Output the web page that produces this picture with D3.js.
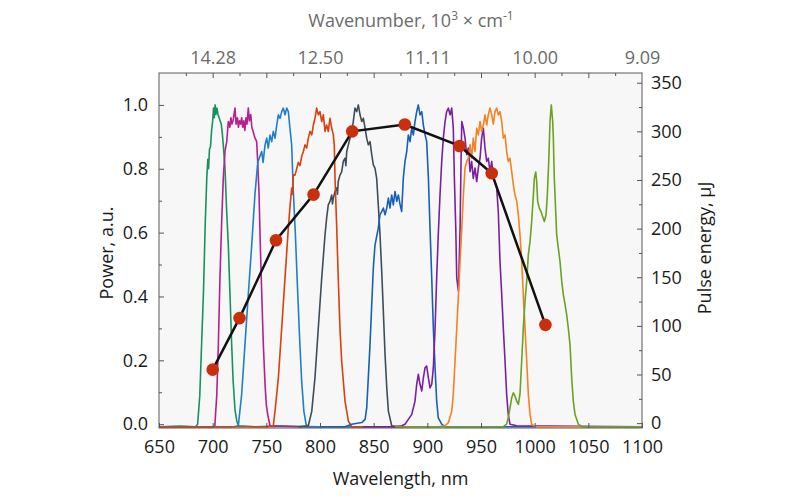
<!DOCTYPE html>
<html><head><meta charset="utf-8">
<script src="https://cdn.jsdelivr.net/npm/d3@7"></script>
<style>body{margin:0;background:#fff}svg{display:block}text{font-family:"Open Sans","Noto Sans",sans-serif}</style>
</head><body><svg id="c" width="800" height="500"></svg>
<script>
const xTicks = [650,700,750,800,850,900,950,1000,1050,1100];
const topTicks = [700,800,900,1000,1100];
const topTickLabels = ["14.28","12.50","11.11","10.00","9.09"];
const leftTicks = [0,0.2,0.4,0.6,0.8,1.0];
const rightTicks = [0,50,100,150,200,250,300,350];

const s1 = [[650,-0.008],[670,-0.006],[684,-0.008],[686,0.0],[688,0.09],[690,0.28],[691.5,0.42],[693,0.62],[694.5,0.77],[695.5,0.83],[696.2,0.8],[697,0.86],[698,0.87],[699,0.92],[700,0.95],[700.8,0.99],[701.5,0.96],[702.3,1.0],[703,0.97],[704,0.99],[705,0.97],[706,0.96],[707,0.95],[708,0.94],[709,0.91],[710,0.87],[711.5,0.8],[713,0.67],[714.6,0.56],[716,0.42],[717.7,0.25],[719,0.14],[720.8,0.045],[722.5,0.01],[724,-0.005],[740,-0.008],[760,-0.006],[800,-0.008]];
const s2 = [[650,-0.008],[700,-0.008],[702,-0.006],[703.8,0.09],[705.3,0.25],[706.8,0.46],[708.4,0.635],[709.9,0.77],[711.5,0.855],[713.1,0.885],[714.6,0.948],[716,0.93],[717,0.96],[718,0.94],[719,0.95],[720.8,0.99],[721.8,0.94],[723,0.96],[724,0.93],[725,0.95],[726,0.94],[727,0.96],[728,0.93],[729,0.95],[730,0.92],[731,0.96],[732,0.94],[733.2,0.99],[734.2,0.95],[735.5,0.97],[736.5,0.93],[737.5,0.92],[739,0.9],[741,0.885],[742,0.82],[743.2,0.72],[744.4,0.56],[745.7,0.41],[747.2,0.25],[748.8,0.125],[750,0.06],[751.3,0.03],[753.4,-0.005],[780,-0.008],[880,-0.008]];
const s3 = [[650,-0.008],[720,-0.008],[723.9,-0.005],[727,0.093],[730.1,0.25],[733.2,0.406],[736.4,0.562],[739.4,0.72],[742,0.82],[744.1,0.84],[745.7,0.854],[747,0.82],[748.8,0.875],[750.3,0.896],[751.8,0.865],[753.4,0.906],[755,0.885],[756.5,0.917],[758.1,0.896],[759.7,0.937],[761.2,0.969],[762.8,0.958],[764.3,0.979],[765.8,0.99],[767.4,0.969],[769,0.99],[770.5,0.979],[772,0.927],[773.6,0.875],[775,0.74],[777,0.6],[779,0.43],[781,0.27],[783,0.13],[785,0.04],[787,0.0],[789,-0.008],[880,-0.008]];
const s4 = [[650,-0.008],[750,-0.008],[756.5,-0.005],[758.1,0.041],[761.2,0.145],[764.3,0.3],[767.4,0.458],[770.5,0.614],[772,0.68],[773.6,0.74],[774.5,0.72],[775.1,0.78],[776.7,0.78],[778.3,0.8],[779.8,0.82],[781.4,0.81],[783,0.84],[784.5,0.854],[786,0.875],[787.6,0.865],[789.1,0.896],[790.7,0.917],[792.3,0.906],[793.8,0.937],[795.3,0.958],[796.9,0.99],[798.4,0.969],[800,0.979],[801.6,0.948],[803.1,0.969],[804.7,0.917],[806.2,0.937],[807.7,0.917],[809.3,0.958],[810.9,0.927],[812.4,0.906],[813.3,0.875],[814,0.77],[815.6,0.614],[817,0.458],[818.6,0.3],[820.2,0.197],[823.3,0.072],[826.4,0.01],[829.5,-0.008],[880,-0.008]];
const s5 = [[780,-0.008],[789.1,-0.005],[792.3,0.04],[795.3,0.145],[798.4,0.3],[801.6,0.458],[804.7,0.594],[806.2,0.646],[807.7,0.687],[809.3,0.698],[810.9,0.718],[811.6,0.69],[812.4,0.708],[814,0.729],[815.6,0.74],[816.3,0.72],[817,0.76],[818.6,0.78],[820.2,0.79],[821.7,0.823],[823.3,0.833],[824.1,0.81],[824.9,0.854],[826.4,0.875],[828,0.896],[829.5,0.917],[831,0.948],[832.6,0.99],[834.2,0.979],[835.7,1.0],[837.3,0.969],[838.9,0.948],[840.4,0.958],[842,0.927],[843.5,0.896],[845,0.875],[846.6,0.885],[848.2,0.844],[849.7,0.812],[851.2,0.802],[852.8,0.77],[854.3,0.687],[855.9,0.594],[857.5,0.479],[859,0.354],[860.6,0.218],[862.2,0.114],[863.7,0.041],[866.8,-0.005],[875,-0.008]];
const s6 = [[800,-0.008],[823.3,-0.008],[829.5,0.0],[838.9,0.005],[842,0.015],[843.5,0.05],[845,0.145],[846.6,0.25],[848.2,0.375],[849.7,0.49],[851.2,0.56],[854.3,0.614],[855.9,0.656],[857.5,0.666],[859,0.677],[860.6,0.656],[862.2,0.677],[863.7,0.708],[865.2,0.677],[866.8,0.718],[868.3,0.687],[869.9,0.729],[871.5,0.698],[873,0.718],[874.5,0.69],[876.1,0.666],[877.6,0.77],[879.2,0.823],[880.8,0.854],[882.3,0.906],[883.9,0.885],[885.4,0.927],[887,0.906],[888.5,0.948],[890.1,0.979],[891.6,1.0],[893.2,0.969],[894.8,0.979],[896.3,0.937],[897.9,0.906],[899.4,0.885],[901,0.77],[902.5,0.614],[904.1,0.458],[905.6,0.3],[907.2,0.177],[908.7,0.072],[910.2,0.02],[913.4,0.0],[916.5,-0.008],[1000,-0.008]];
const s7 = [[840,-0.008],[869.9,-0.008],[876.1,-0.005],[879.2,0.0],[882.3,0.015],[885.4,0.03],[888.5,0.072],[890.1,0.125],[891.6,0.156],[893.2,0.125],[894.8,0.104],[896.3,0.145],[897.9,0.177],[899.4,0.182],[901,0.145],[902.5,0.114],[904.1,0.125],[905.6,0.177],[907.2,0.3],[908.7,0.458],[910.2,0.594],[911.8,0.718],[913.4,0.823],[914.9,0.896],[916.5,0.948],[918,0.979],[919.6,0.99],[921.2,0.969],[922.7,0.99],[924.2,0.927],[925.2,0.77],[926.5,0.614],[927.4,0.458],[929,0.417],[930.5,0.614],[931.4,0.823],[932.1,0.948],[933.6,0.927],[935.1,0.896],[936.7,0.844],[938.2,0.865],[939.8,0.791],[941.3,0.823],[942.8,0.77],[944.4,0.802],[946,0.76],[947.5,0.802],[949.1,0.833],[950.6,0.896],[952.2,0.927],[953.7,0.865],[955.3,0.823],[956.8,0.833],[958.4,0.791],[960,0.823],[961.5,0.77],[963,0.76],[964.6,0.74],[966.1,0.666],[967.7,0.51],[969.3,0.406],[970.8,0.3],[972.4,0.197],[973.9,0.093],[975.4,0.03],[977,0.0],[983.3,-0.005],[1100,-0.008]];
const s8 = [[870,-0.008],[910.2,-0.008],[916.5,-0.005],[919.6,0.005],[922.7,0.04],[924.2,0.093],[925.8,0.197],[927.4,0.3],[929,0.406],[930.5,0.51],[932.1,0.614],[933.6,0.718],[935.1,0.802],[936.7,0.823],[938.2,0.833],[939.8,0.875],[941.3,0.833],[942.8,0.896],[944.4,0.854],[946,0.927],[947.5,0.906],[949.1,0.948],[950.6,0.917],[952.2,0.937],[953.7,0.969],[955.3,0.937],[956.8,0.969],[958.4,0.99],[960,0.969],[961.5,0.94],[963,0.979],[964.6,0.99],[966.1,0.969],[967.7,0.979],[969.3,0.948],[970.8,0.896],[972.4,0.906],[973.9,0.854],[975.4,0.823],[977,0.833],[978.6,0.791],[980.1,0.75],[981.7,0.718],[983.3,0.698],[984.8,0.656],[986.3,0.594],[987.9,0.51],[989.4,0.406],[991,0.3],[992.6,0.197],[994.1,0.093],[995.7,0.03],[997.2,0.0],[1000.3,-0.008],[1100,-0.008]];
const s9 = [[870,-0.008],[970.8,-0.008],[973.9,0.0],[975.4,0.02],[977,0.05],[978.6,0.083],[980.1,0.098],[981.7,0.088],[983.3,0.072],[984.8,0.062],[986.3,0.093],[987.9,0.197],[989.4,0.3],[991,0.385],[992.6,0.448],[994.1,0.531],[995.7,0.573],[997.2,0.635],[998.8,0.718],[999.7,0.77],[1001,0.79],[1001.9,0.76],[1002.8,0.698],[1004.3,0.677],[1005.9,0.666],[1007.5,0.65],[1009,0.635],[1010.6,0.656],[1011.8,0.718],[1013.1,0.823],[1014.3,0.948],[1015.5,1.0],[1016.8,0.948],[1017.4,0.896],[1018.3,0.77],[1019.6,0.666],[1020.5,0.594],[1022,0.552],[1023.6,0.51],[1025.2,0.448],[1026.7,0.406],[1028.3,0.375],[1029.8,0.343],[1031.3,0.302],[1032.9,0.25],[1034.5,0.145],[1036,0.072],[1037.6,0.03],[1040.7,0.0],[1043.8,-0.008],[1100,-0.008]];

const spectra = [s1,s2,s3,s5,s4,s6,s7,s8,s9];
const spectraColors = ["#17925f","#b5208f","#1e7fcb","#3c4e5c","#d8400c","#1660b7","#7b1fa2","#f5821f","#6aa222"];

const pulseWl = [700,725,759,794,830,879,930,960,1010];
const pulseEnergy = [55,108,188,235,300,307,285,257,101];

const L=159,R=642,T=73,B=428;
const svg=d3.select("#c");
const x=d3.scaleLinear().domain([650,1100]).range([L,R]);
const y=d3.scaleLinear().domain([-0.012,1.1]).range([B,T]);
const y2=d3.scaleLinear().domain([-5,360]).range([B,T]);

svg.append("rect").attr("x",L).attr("y",T).attr("width",R-L).attr("height",B-T).attr("fill","#f7f7f7");

svg.append("clipPath").attr("id","pc").append("rect").attr("x",L).attr("y",T).attr("width",R-L).attr("height",B-T);
const g=svg.append("g").attr("clip-path","url(#pc)");
const line=d3.line().x(d=>x(d[0])).y(d=>y(d[1]));
spectra.forEach((s,i)=>{
  g.append("path").attr("d",line(s)).attr("fill","none").attr("stroke",spectraColors[i]).attr("stroke-width",1.6).attr("stroke-linejoin","round");
});

const pts=pulseWl.map((w,i)=>[w,pulseEnergy[i]]);
g.append("path").attr("d",d3.line().x(d=>x(d[0])).y(d=>y2(d[1]))(pts)).attr("fill","none").attr("stroke","#111").attr("stroke-width",2.5);
g.selectAll("circle.p").data(pts).join("circle").attr("cx",d=>x(d[0])).attr("cy",d=>y2(d[1])).attr("r",6.3).attr("fill","#c8300c");

// axes
const fs=18;
const axB=svg.append("g").attr("transform",`translate(0,${B})`).call(d3.axisBottom(x).tickValues(xTicks).tickSizeInner(-5).tickSizeOuter(0).tickPadding(12).tickFormat(d3.format("d")));
const axT=svg.append("g").attr("transform",`translate(0,${T})`).call(d3.axisTop(x).tickValues(d3.range(675,1100,25)).tickSizeInner(0).tickSizeOuter(0).tickFormat(""));
axT.selectAll(".tick line").attr("y2",d=>d%50===0?5:3);
const axT2=svg.append("g").attr("transform",`translate(0,${T})`).call(d3.axisTop(x).tickValues(topTicks).tickSize(0).tickPadding(9).tickFormat((d,i)=>topTickLabels[i]));
const axL=svg.append("g").attr("transform",`translate(${L},0)`).call(d3.axisLeft(y).tickValues(d3.range(0,11).map(v=>v/10)).tickSizeInner(0).tickSizeOuter(0).tickPadding(11).tickFormat(d=>Math.round(d*10)%2===0?d3.format(".1f")(d):""));
axL.selectAll(".tick line").attr("x2",d=>Math.round(d*10)%2===0?5:3);
const axR=svg.append("g").attr("transform",`translate(${R},0)`).call(d3.axisRight(y2).tickValues(d3.range(0,351,25)).tickSizeInner(0).tickSizeOuter(0).tickPadding(9).tickFormat(d=>d%50===0?d:""));
axR.selectAll(".tick line").attr("x2",d=>d%50===0?-5:-3);

[axB,axT,axT2,axL,axR].forEach(a=>{a.select(".domain").remove();a.selectAll("text").attr("font-size",fs).attr("font-family","Open Sans").attr("fill","#1a1a1a");a.selectAll("line").attr("stroke","#555");});
axT2.selectAll("text").attr("fill","#6b6b6b");

svg.append("rect").attr("x",L).attr("y",T).attr("width",R-L).attr("height",B-T).attr("fill","none").attr("stroke","#5a5a5a").attr("stroke-width",1);

svg.append("text").attr("x",(L+R)/2).attr("y",485).attr("text-anchor","middle").attr("font-size",fs).attr("fill","#1a1a1a").text("Wavelength, nm");
svg.append("text").attr("transform","translate(113,253) rotate(-90)").attr("text-anchor","middle").attr("font-size",fs).attr("fill","#1a1a1a").text("Power, a.u.");
svg.append("text").attr("transform","translate(711,248) rotate(-90)").attr("text-anchor","middle").attr("font-size",fs).attr("fill","#1a1a1a").text("Pulse energy, μJ");
const tt=svg.append("text").attr("x",411).attr("y",27).attr("text-anchor","middle").attr("font-size",fs).attr("fill","#6b6b6b");
tt.append("tspan").text("Wavenumber, 10");
tt.append("tspan").attr("font-size",12).attr("dy",-7).text("3");
tt.append("tspan").attr("dy",7).text(" × cm");
tt.append("tspan").attr("font-size",12).attr("dy",-7).text("-1");
</script></body></html>
